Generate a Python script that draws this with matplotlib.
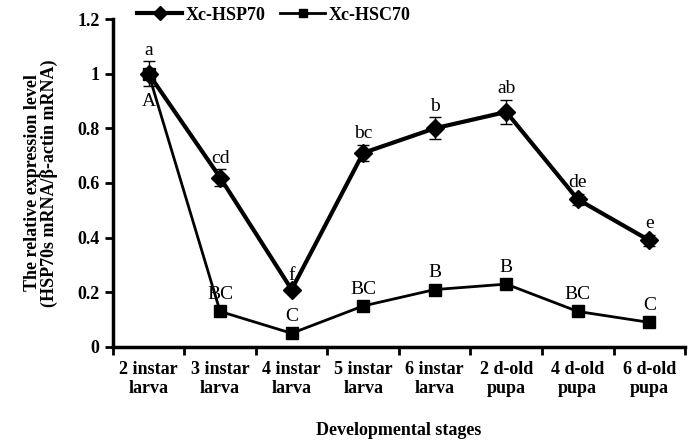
import matplotlib.pyplot as plt
import numpy as np

stages = ["2 instar\nlarva", "3 instar\nlarva", "4 instar\nlarva", "5 instar\nlarva",
          "6 instar\nlarva", "2 d-old\npupa", "4 d-old\npupa", "6 d-old\npupa"]
hsp70 = [1.00, 0.62, 0.21, 0.71, 0.80, 0.86, 0.54, 0.39]
hsp70_err = [0.045, 0.03, 0.01, 0.03, 0.04, 0.045, 0.02, 0.02]
hsc70 = [1.00, 0.13, 0.05, 0.15, 0.21, 0.23, 0.13, 0.09]
hsc70_err = [0.01, 0.01, 0.005, 0.01, 0.01, 0.01, 0.01, 0.01]
hsp70_letters = ["a", "cd", "f", "bc", "b", "ab", "de", "e"]
hsc70_letters = ["A", "BC", "C", "BC", "B", "B", "BC", "C"]

plt.rcParams["font.family"] = ["Liberation Serif", "DejaVu Serif"]

fig = plt.figure(figsize=(6.92, 4.42), dpi=100)
ax = fig.add_axes([0.163, 0.215, 0.827, 0.742])

x = np.arange(len(stages))
eb1 = ax.errorbar(x, hsp70, yerr=hsp70_err, color="black", lw=3, marker="D", ms=9,
                  capsize=4, elinewidth=1, capthick=1, zorder=3)
eb2 = ax.errorbar(x, hsc70, yerr=hsc70_err, color="black", lw=2, marker="s", ms=8,
                  capsize=4, elinewidth=1, capthick=1, zorder=3)

# significance letters
for i, (v, e, t) in enumerate(zip(hsp70, hsp70_err, hsp70_letters)):
    ax.annotate(t, (x[i], v + e), xytext=(0, 2), textcoords="offset points",
                ha="center", va="bottom", fontsize=14)
for i, (v, t) in enumerate(zip(hsc70, hsc70_letters)):
    if i == 0:
        ax.annotate(t, (x[i], v), xytext=(0, -14), textcoords="offset points",
                    ha="center", va="top", fontsize=14)
    else:
        ax.annotate(t, (x[i], v), xytext=(0, 6), textcoords="offset points",
                    ha="center", va="bottom", fontsize=14)

ax.set_xlim(-0.5, len(stages) - 0.5)
ax.set_ylim(0, 1.2)
ax.set_yticks([0, 0.2, 0.4, 0.6, 0.8, 1.0, 1.2])
ax.set_yticklabels(["0", "0.2", "0.4", "0.6", "0.8", "1", "1.2"],
                   fontsize=13, fontweight="bold")
ax.set_xticks(x)
ax.set_xticklabels(stages, fontsize=13, fontweight="bold")
ax.set_xticks(np.arange(-0.5, len(stages)), minor=True)
ax.tick_params(axis="x", which="major", length=0, pad=10)
ax.tick_params(axis="x", which="minor", length=6, width=2, direction="out")
ax.tick_params(axis="y", length=6, width=2, direction="out")

for s in ["top", "right"]:
    ax.spines[s].set_visible(False)
for s in ["left", "bottom"]:
    ax.spines[s].set_linewidth(2.5)

ax.set_ylabel("The relative expression level\n(HSP70s mRNA/\u03b2-actin mRNA)",
              fontsize=13, fontweight="bold", linespacing=0.95, labelpad=14)
ax.set_xlabel("Developmental stages", fontsize=13, fontweight="bold", labelpad=18)

# legend shows only line + marker, no error bars
ax.legend([eb1[0], eb2[0]], ["Xc-HSP70", "Xc-HSC70"], loc="upper left",
          bbox_to_anchor=(0.03, 1.06), ncol=2, frameon=False,
          prop={"weight": "bold", "size": 13}, handlelength=2.5, markerscale=0.75,
          handletextpad=0.2, columnspacing=0.8, borderaxespad=0)

fig.savefig("out.png", dpi=100)
